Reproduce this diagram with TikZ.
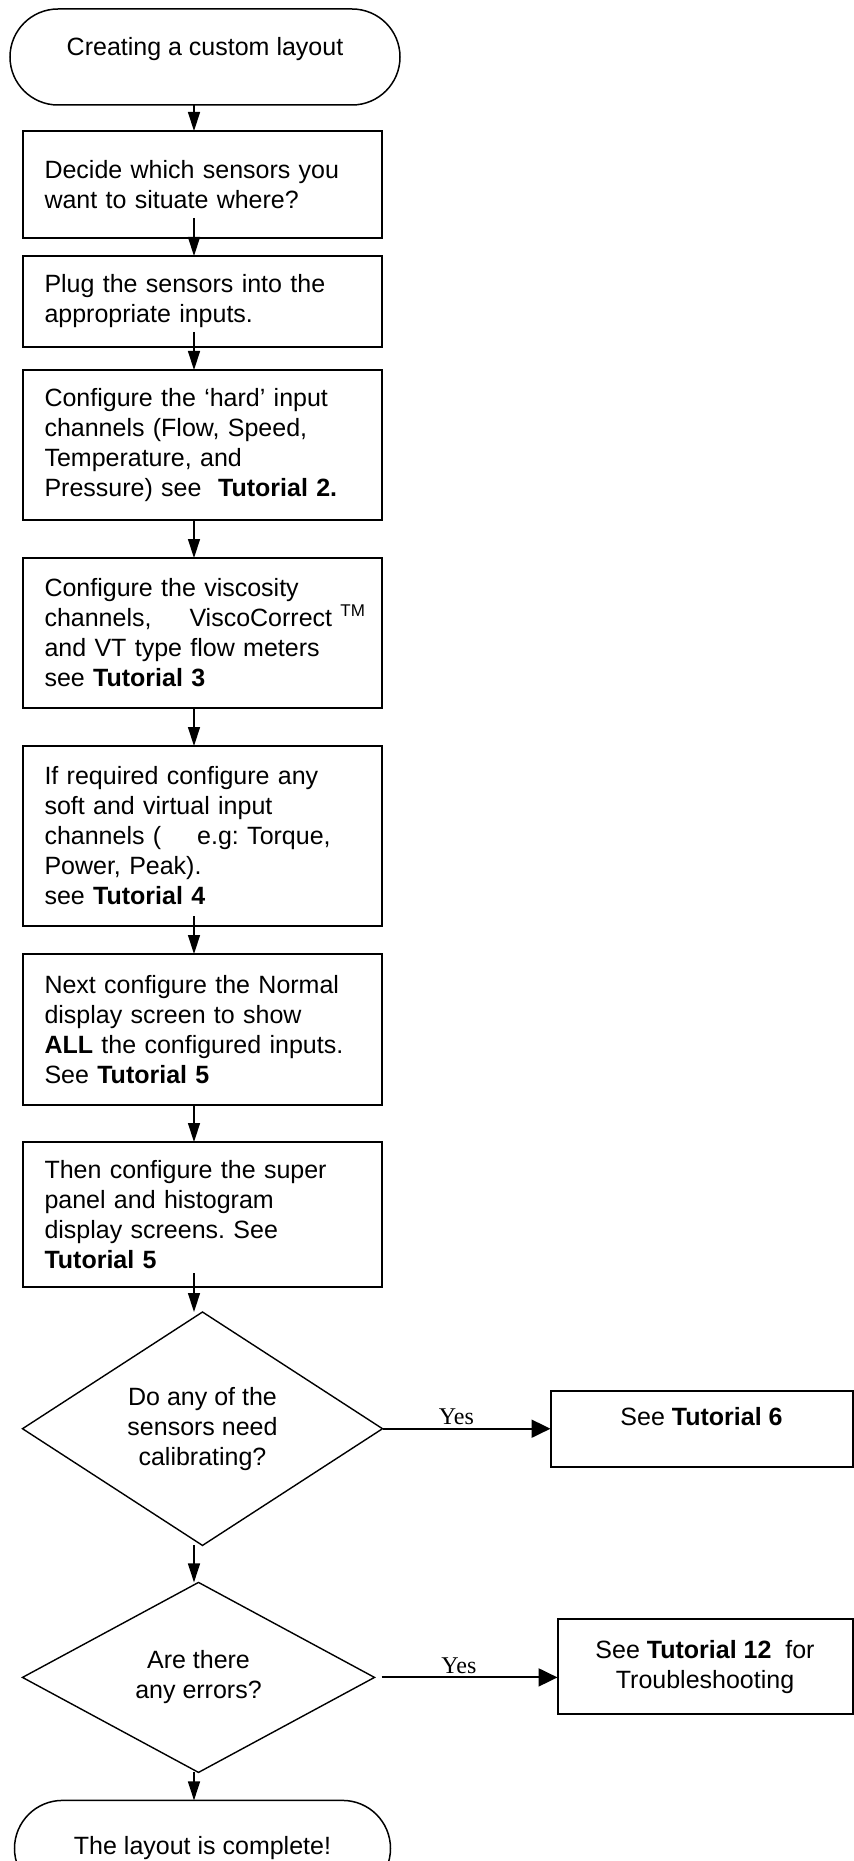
\documentclass[tikz,border=0pt]{standalone}
\usepackage{fontspec}
\setmainfont{Liberation Sans}
\newfontfamily\yesfont{Liberation Serif}
\usetikzlibrary{arrows.meta,positioning,shapes.geometric}

\tikzset{
  stepbox/.style={draw,line width=1pt,rectangle,outer sep=0pt,minimum width=179.5pt,
    text width=158pt,inner xsep=10.75pt,inner ysep=0pt,align=left,
    font=\fontsize{12.5}{15}\selectfont},
  terminal/.style={draw,line width=0.75pt,rectangle,rounded corners=24pt,outer sep=0pt,
    minimum height=48pt,inner sep=0pt,font=\fontsize{12.5}{15}\selectfont},
  decision/.style={draw,line width=0.7pt,diamond,outer sep=0pt,inner sep=0pt,align=center,
    font=\fontsize{12.5}{15}\selectfont},
  tutbox/.style={draw,line width=1pt,rectangle,outer sep=0pt,inner sep=0pt,align=center,
    font=\fontsize{12.5}{15}\selectfont},
  flow/.style={-{Triangle[length=9.5pt,width=6pt]},line width=0.7pt},
  yesarrow/.style={-{Triangle[length=9.5pt,width=9pt]},line width=1pt},
  yeslabel/.style={font=\yesfont\fontsize{12}{14}\selectfont,inner sep=1.5pt}
}

\begin{document}
\frenchspacing
\begin{tikzpicture}[x=0.5pt,y=-0.5pt]
\path[use as bounding box,fill=white] (0,0) rectangle (854,1861);
\coordinate (spine) at (194,0);
\node[terminal,minimum width=195pt,text height=9pt,text depth=10pt] (start) at (205,57) {Creating a custom layout};
\node[stepbox,minimum height=53.5pt] (decide) at (202.5,184.5) {Decide which sensors you\\want to situate where?};
\node[stepbox,minimum height=45.5pt,below=9pt of decide] (plug) {Plug the sensors into the\\appropriate inputs.};
\node[stepbox,minimum height=75pt,below=11.5pt of plug] (hard) {Configure the ‘hard’ input\\channels (Flow, Speed,\\Temperature, and\\Pressure) see\ \ \textbf{Tutorial 2.}};
\node[stepbox,minimum height=75pt,below=19pt of hard] (visc) {Configure the viscosity\\\mbox{channels,\hspace*{19pt}ViscoCorrect \raisebox{5pt}{\fontsize{8.5}{10}\selectfont TM}}\\and VT type flow meters\\see \textbf{Tutorial 3}};
\node[stepbox,minimum height=90pt,below=19pt of visc] (soft) {If required configure any\\soft and virtual input\\channels (\hspace*{18pt}e.g: Torque,\\Power, Peak).\\see \textbf{Tutorial 4}};
\node[stepbox,minimum height=75.5pt,below=14pt of soft] (normal) {Next configure the Normal\\display screen to show\\\textbf{ALL} the configured inputs.\\See \textbf{Tutorial 5}};
\node[stepbox,minimum height=72.5pt,below=18.5pt of normal] (super) {Then configure the super\\panel and histogram\\display screens. See\\\textbf{Tutorial 5}};
\node[decision,minimum width=180pt,minimum height=113pt,below=12.5pt of super] (calib) {Do any of the\\sensors need\\calibrating?};
\node[decision,minimum width=176pt,minimum height=95pt,below=18.5pt of calib,xshift=-2pt] (errors) {Are there\\any errors?};
\node[terminal,minimum width=188pt,below=14pt of errors,xshift=2pt] (done) {The layout is complete!};
\node[tutbox,minimum width=151pt,minimum height=38pt,text height=9pt,text depth=12pt,right=84pt of calib] (tut6) {See \textbf{Tutorial 6}};
\node[tutbox,minimum width=147.5pt,minimum height=47.5pt,right=91.5pt of errors,yshift=5.25pt] (tut12) {See \textbf{Tutorial 12}\ \ for\\Troubleshooting};
\draw[flow] (start.south -| spine) -- (decide.north -| spine);
\draw[flow] ([yshift=10pt]decide.south -| spine) -- (plug.north -| spine);
\draw[flow] ([yshift=7.5pt]plug.south -| spine) -- (hard.north -| spine);
\draw[flow] (hard.south -| spine) -- (visc.north -| spine);
\draw[flow] (visc.south -| spine) -- (soft.north -| spine);
\draw[flow] ([yshift=5pt]soft.south -| spine) -- (normal.north -| spine);
\draw[flow] (normal.south -| spine) -- (super.north -| spine);
\draw[flow] ([yshift=7pt]super.south -| spine) -- (calib.north -| spine);
\draw[flow] (calib.south -| spine) -- (errors.north -| spine);
\draw[flow] (errors.south -| spine) -- (done.north -| spine);
\draw[yesarrow] (calib.east) -- (tut6.west) node[yeslabel,pos=0.44,above] {Yes};
\draw[yesarrow] ([xshift=3.5pt]errors.east) -- (errors.east -| tut12.west) node[yeslabel,pos=0.44,above] {Yes};
\end{tikzpicture}
\end{document}
